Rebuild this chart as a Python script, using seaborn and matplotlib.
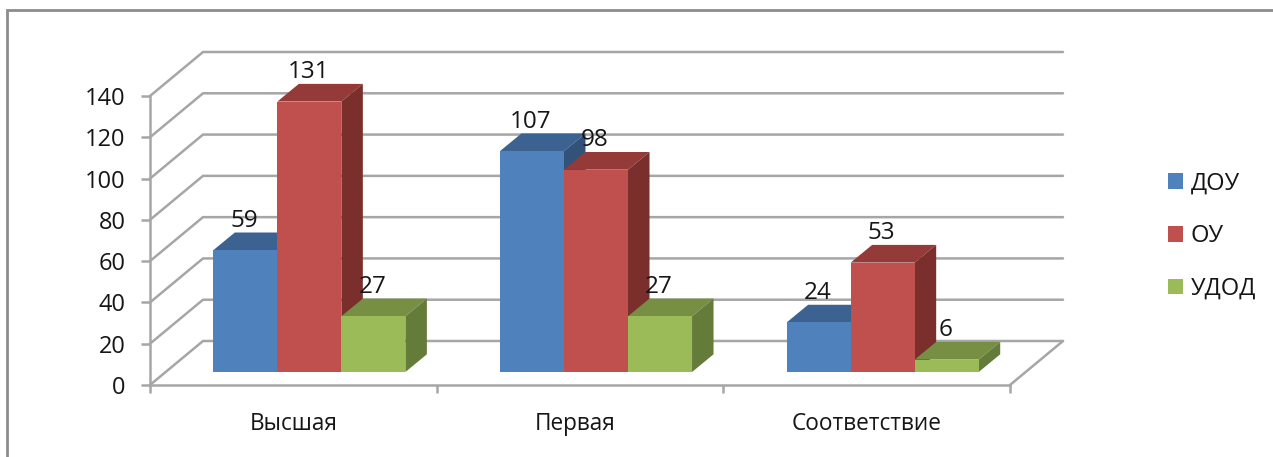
import pandas as pd
import seaborn as sns
import matplotlib.pyplot as plt
from matplotlib.patches import Polygon, Rectangle

categories = ["Высшая", "Первая", "Соответствие"]
series_names = ["ДОУ", "ОУ", "УДОД"]
dou_values = [59, 107, 24]
ou_values = [131, 98, 53]
udod_values = [27, 27, 6]
y_ticks = [0, 20, 40, 60, 80, 100, 120, 140]

face_colors = ["#4F81BD", "#C0504D", "#9BBB59"]
top_colors = ["#3C6291", "#943A38", "#778F42"]
side_colors = ["#335279", "#7A2F2D", "#657B3A"]
wall_color = "#A6A6A6"
text_color = "#161616"

W, H = 1273, 457

if __name__ == "__main__":
    df = pd.DataFrame({
        "cat": categories * 3,
        "series": [s for s in series_names for _ in categories],
        "val": dou_values + ou_values + udod_values,
    })

    sns.set_theme(style="white")
    plt.rcParams["font.family"] = ["Open Sans", "DejaVu Sans"]

    fig = plt.figure(figsize=(W / 100, H / 100), dpi=100)
    # axes = front plane of the 3d box
    ax = fig.add_axes([150 / W, 1 - 385 / H, 860 / W, 289 / H])

    sns.barplot(df, x="cat", y="val", hue="series", hue_order=series_names,
                order=categories, palette=face_colors, width=0.67, saturation=1,
                linewidth=0, ax=ax)

    ax.set_xlim(-0.5, 2.5)
    ax.set_ylim(0, 140)
    ux = 3 / 860  # data units per pixel
    uy = 140 / 289

    # back wall and floor
    back_x, back_y = 53 * ux, 44 * uy
    for t in y_ticks:
        ax.plot([-0.5, -0.5 + back_x, 2.5 + back_x], [t, t + back_y, t + back_y],
                color=wall_color, lw=1.8, clip_on=False, zorder=1)
    ax.plot([2.5, 2.5 + back_x], [0, back_y], color=wall_color, lw=1.8, clip_on=False, zorder=1)

    # bars stand a bit behind the front plane, extrude them by hand
    shift_x, shift_y = 16 * ux, 13 * uy
    depth_x, depth_y = 21.5 * ux, 17.7 * uy
    for i, container in enumerate(ax.containers):
        for bar, value in zip(container, container.datavalues):
            bar.set_x(bar.get_x() + shift_x)
            bar.set_y(shift_y)
            bar.set_clip_on(False)
            bar.set_zorder(3 + i * 3)
            x0, x1 = bar.get_x(), bar.get_x() + bar.get_width()
            y0, y1 = shift_y, shift_y + value
            ax.add_patch(Polygon([(x0, y1), (x1, y1), (x1 + depth_x, y1 + depth_y), (x0 + depth_x, y1 + depth_y)],
                                 fc=top_colors[i], lw=0, clip_on=False, zorder=2 + i * 3))
            ax.add_patch(Polygon([(x1, y0), (x1, y1), (x1 + depth_x, y1 + depth_y), (x1 + depth_x, y0 + depth_y)],
                                 fc=side_colors[i], lw=0, clip_on=False, zorder=2 + i * 3))
            ax.text((x0 + x1) / 2 - 1 * ux, y1 + 29.5 * uy, f"{int(value)}", ha="center", va="center",
                    fontsize=17.5, color=text_color, zorder=20, clip_on=False)

    sns.despine(ax=ax)
    for name in ["left", "bottom"]:
        ax.spines[name].set_color(wall_color)
        ax.spines[name].set_linewidth(1.8)
    ax.set_yticks(y_ticks)
    # middle label sits a few px left of its slot in the original
    ax.set_xticks([0, 1 - 5 * ux, 2], categories)
    ax.set_xticks([-0.5, 0.5, 1.5, 2.5], minor=True)
    ax.tick_params(axis="y", length=6.5, width=1.8, color=wall_color, labelsize=17,
                   labelcolor=text_color, pad=11, left=True)
    ax.tick_params(axis="x", which="major", length=0, labelsize=16.3, labelcolor=text_color, pad=19.5)
    ax.tick_params(axis="x", which="minor", length=6, width=1.8, color=wall_color, bottom=True)
    ax.set_xlabel("")
    ax.set_ylabel("")

    handles, labels = ax.get_legend_handles_labels()
    ax.legend(handles, labels, loc="center left", bbox_to_anchor=(1168 / W, 1 - 236 / H),
              bbox_transform=fig.transFigure, frameon=False, fontsize=17, borderpad=0,
              borderaxespad=0, labelspacing=1.22, handlelength=0.64, handleheight=0.64,
              handletextpad=0.33, labelcolor=text_color)

    # outer chart frame
    fig.add_artist(Rectangle((7 / W, -0.1), 1.2, 1.1 - 10 / H, transform=fig.transFigure,
                             fc="none", ec="#8C8C8C", lw=2))

    plt.savefig("out.png", dpi=100)
